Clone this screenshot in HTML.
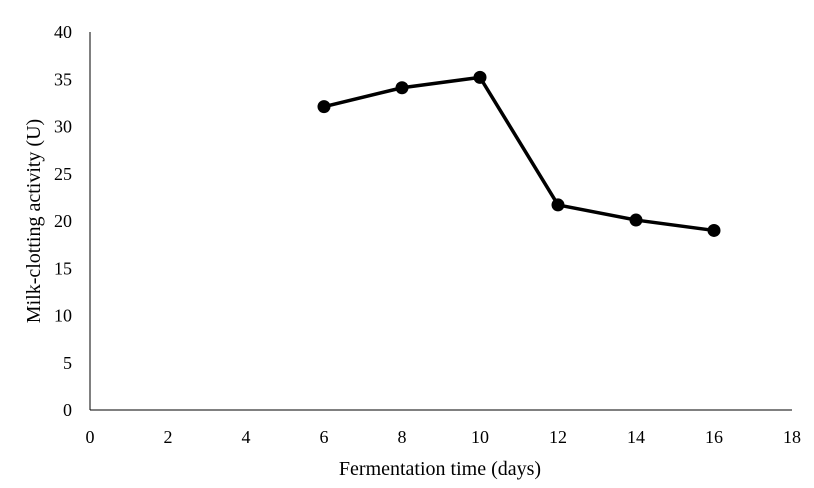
<!DOCTYPE html>
<html><head><meta charset="utf-8"><style>
html,body{margin:0;padding:0;background:#fff;}
svg{display:block;font-family:"Liberation Serif",serif;}
</style></head><body>
<svg id="chart" width="814" height="488" viewBox="0 0 814 488" xmlns="http://www.w3.org/2000/svg"></svg>
<script>
const days = [6, 8, 10, 12, 14, 16];
const activity = [32.1, 34.1, 35.2, 21.7, 20.1, 19.0];
const xTicks = [0, 2, 4, 6, 8, 10, 12, 14, 16, 18];
const yTicks = [0, 5, 10, 15, 20, 25, 30, 35, 40];

const NS = "http://www.w3.org/2000/svg";
const svg = document.getElementById('chart');
const x0 = 90, x1 = 792, y0 = 410, y1 = 32;
const xs = v => x0 + (v - 0) / 18 * (x1 - x0);
const ys = v => y0 - (v - 0) / 40 * (y0 - y1);
function mk(tag, attrs, parent) {
  const e = document.createElementNS(NS, tag);
  for (const k in attrs) e.setAttribute(k, attrs[k]);
  (parent || svg).appendChild(e);
  return e;
}
let e;
e = mk('line', {x1: x0, y1: y1, x2: x0, y2: y0, stroke: '#000', 'stroke-width': 1});


e = mk('line', {x1: x0, y1: y0, x2: x1, y2: y0, stroke: '#000', 'stroke-width': 1});


yTicks.forEach(t => {
  e = mk('text', {x: x0 - 18, y: ys(t) + 6, 'text-anchor': 'end', 'font-size': 18, fill: '#000'});
  e.textContent = t;
  
  
});
xTicks.forEach(t => {
  e = mk('text', {x: xs(t), y: 443, 'text-anchor': 'middle', 'font-size': 18, fill: '#000'});
  e.textContent = t;
  
  
});
e = mk('text', {x: 440, y: 475, 'text-anchor': 'middle', 'font-size': 20, fill: '#000'});
e.textContent = 'Fermentation time (days)';


e = mk('text', {x: 0, y: 0, 'text-anchor': 'middle', 'font-size': 20, fill: '#000', transform: 'translate(40,221) rotate(-90)'});
e.textContent = 'Milk-clotting activity (U)';


const pts = days.map((d, i) => xs(d) + ',' + ys(activity[i])).join(' ');
e = mk('polyline', {points: pts, fill: 'none', stroke: '#000', 'stroke-width': 3.5, 'stroke-linejoin': 'round'});


days.forEach((d, i) => {
  e = mk('circle', {cx: xs(d), cy: ys(activity[i]), r: 6.5, fill: '#000'});
  
  
});
</script>
</body></html>
